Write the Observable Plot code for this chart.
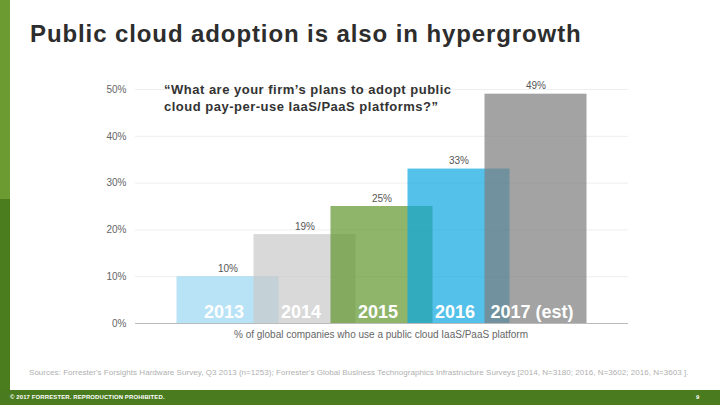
<!DOCTYPE html>
<html>
<head>
<meta charset="utf-8">
<script src="https://cdn.jsdelivr.net/npm/d3@7"></script>
<script src="https://cdn.jsdelivr.net/npm/@observablehq/plot@0.6"></script>
<style>
  html, body { margin: 0; padding: 0; background: #fff; }
  #slide { position: relative; width: 720px; height: 405px; overflow: hidden; background: #fff;
           font-family: "Liberation Sans", Arial, sans-serif; }
  #chart { position: absolute; left: 0; top: 0; }
  .abs { position: absolute; white-space: nowrap; }
  #title { left: 30px; top: 20px; font-size: 24px; line-height: 28px; font-weight: bold; color: #2d2d2d; letter-spacing: 0.9px; }
  #question { left: 164px; top: 81px; font-size: 13px; line-height: 17px; font-weight: bold; color: #333; letter-spacing: 0.5px; }
  #xlabel { left: 181px; width: 400px; text-align: center; top: 329px; font-size: 10px; line-height: 12px; color: #666; }
  #sources { left: 29px; top: 368px; font-size: 8px; line-height: 10px; color: #b0b0b0; letter-spacing: 0.04px; }
  #barTop { left: 0; top: 0; width: 10px; height: 199px; background: #6b9b31; }
  #barBottom { left: 0; top: 199px; width: 10px; height: 191px; background: #4b7d1f; }
  #footer { left: 0; top: 390px; width: 720px; height: 15px; background: #4a7b1e; }
  #footText { left: 10px; top: 393px; font-size: 6px; line-height: 8px; font-weight: bold; color: #fff; letter-spacing: 0.1px; }
  #page { left: 696px; top: 393px; font-size: 6px; line-height: 8px; font-weight: bold; color: #fff; }
</style>
</head>
<body>
<div id="slide">
  <div id="chart"></div>
  <div class="abs" id="barTop"></div>
  <div class="abs" id="barBottom"></div>
  <div class="abs" id="title">Public cloud adoption is also in hypergrowth</div>
  <div class="abs" id="question">“What are your firm’s plans to adopt public<br>cloud pay-per-use IaaS/PaaS platforms?”</div>
  <div class="abs" id="xlabel">% of global companies who use a public cloud IaaS/PaaS platform</div>
  <div class="abs" id="sources">Sources: Forrester's Forsights Hardware Survey, Q3 2013 (n=1253); Forrester's Global Business Technographics Infrastructure Surveys [2014, N=3180; 2016, N=3602; 2016, N=3603 ].</div>
  <div class="abs" id="footer"></div>
  <div class="abs" id="footText">© 2017 FORRESTER. REPRODUCTION PROHIBITED.</div>
  <div class="abs" id="page">9</div>
</div>
<script>
const years = ["2013", "2014", "2015", "2016", "2017 (est)"];
const values = [10, 19, 25, 33, 49];
const barColors = ["#9ad7f2", "#c9c9c9", "#5f952c", "#0ca6e1", "#7c7c7c"];
const yTicks = [0, 10, 20, 30, 40, 50];

const data = years.map((year, i) => ({year, value: values[i], color: barColors[i]}));

const chart = Plot.plot({
  width: 720,
  height: 390,
  marginTop: 89,
  marginBottom: 67,
  marginLeft: 135,
  marginRight: 92,
  style: {fontFamily: "Liberation Sans, Arial, sans-serif", background: "transparent"},
  x: {domain: years, paddingInner: 0, paddingOuter: 0.7, axis: null},
  y: {domain: [0, 50], ticks: yTicks, tickFormat: d => d + "%", tickSize: 0, tickPadding: 9, label: null},
  color: {type: "identity"},
  marks: [
    Plot.ruleY(yTicks.filter(t => t > 0), {stroke: "#eeeeee", strokeWidth: 1}),
    Plot.axisY({ticks: yTicks, tickFormat: d => d + "%", tickSize: 0, tickPadding: 9, fontSize: 10, fill: "#666", label: null}),
    Plot.barY(data, {x: "year", y: "value", fill: "color", fillOpacity: 0.7, insetLeft: -12.5, insetRight: -12.5}),
    Plot.ruleY([0], {stroke: "#bbbbbb", strokeWidth: 1}),
    Plot.text(data, {x: "year", y: "value", text: d => d.value + "%", lineAnchor: "bottom", dy: -5, fontSize: 10, fill: "#555"}),
    Plot.text(data, {x: "year", y: () => 0, text: "year", lineAnchor: "bottom", dy: -6, dx: -4, fontSize: 18, fontWeight: "bold", fill: "#fff"})
  ]
});
document.getElementById("chart").appendChild(chart);
</script>
</body>
</html>
